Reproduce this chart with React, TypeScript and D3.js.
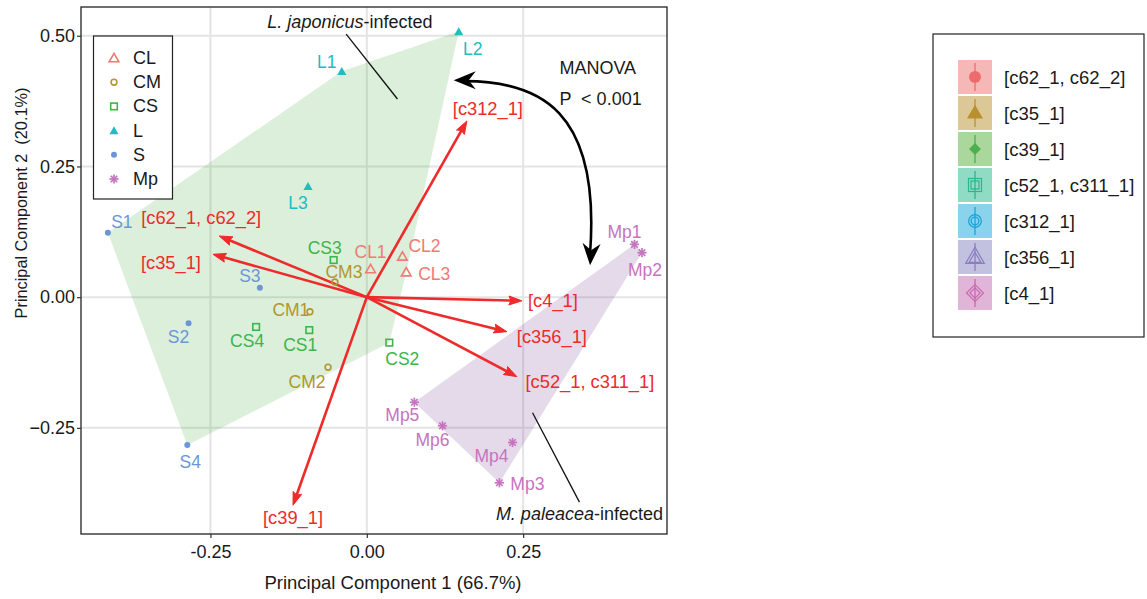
import * as d3 from "d3";
import { useRef, useEffect } from "react";

// ---- data ----
const groups = ["CL", "CM", "CS", "L", "S", "Mp"];
const groupColors = ["#F07A74", "#B3962F", "#3DB54A", "#22BCC0", "#6B96D6", "#C673C0"];

const sampleNames = [
  "L1", "L2", "L3", "S1", "S2", "S3", "S4",
  "CL1", "CL2", "CL3", "CM1", "CM2", "CM3",
  "CS1", "CS2", "CS3", "CS4",
  "Mp1", "Mp2", "Mp3", "Mp4", "Mp5", "Mp6",
];
const sampleGroup = [
  "L", "L", "L", "S", "S", "S", "S",
  "CL", "CL", "CL", "CM", "CM", "CM",
  "CS", "CS", "CS", "CS",
  "Mp", "Mp", "Mp", "Mp", "Mp", "Mp",
];
const pc1 = [
  -0.040, 0.147, -0.094, -0.414, -0.285, -0.171, -0.287,
  0.006, 0.057, 0.063, -0.091, -0.062, -0.051,
  -0.092, 0.036, -0.053, -0.177,
  0.428, 0.440, 0.212, 0.233, 0.076, 0.121,
];
const pc2 = [
  0.432, 0.508, 0.212, 0.123, -0.050, 0.018, -0.283,
  0.054, 0.078, 0.048, -0.028, -0.134, 0.029,
  -0.063, -0.087, 0.071, -0.057,
  0.101, 0.085, -0.355, -0.278, -0.201, -0.246,
];
// label nudges (px) for sample names
const labelDx = [-15, 14, -10, 14, -10, -10, 3, 0, 22, 28, -19, -21, 9, -9, 13, -9, -9, -10, 3, 28, -21, -12, -10];
const labelDy = [-9, 17, 17, -11, 14, -12, 17, -17, -10, 2, -2, 15, -10, 15, 16, -12, 14, -12, 17, 1, 13, 13, 14];

const loadingNames = ["[c312_1]", "[c62_1, c62_2]", "[c35_1]", "[c4_1]", "[c356_1]", "[c52_1, c311_1]", "[c39_1]"];
const loading1 = [0.160, -0.236, -0.246, 0.248, 0.224, 0.240, -0.118];
const loading2 = [0.337, 0.117, 0.082, -0.007, -0.066, -0.152, -0.398];
const loadDx = [21, -18, -42, 31, 45, 73, 0];
const loadDy = [-12, -18, 8, 0, 5, 5, 12];

const legendKeys = ["[c62_1, c62_2]", "[c35_1]", "[c39_1]", "[c52_1, c311_1]", "[c312_1]", "[c356_1]", "[c4_1]"];
const keyFills = ["#F5B8B7", "#DCC897", "#AAD89C", "#8FDBC4", "#89D4EC", "#C3C1E0", "#E0B5D8"];
const keyInks = ["#EE6B6B", "#B8902E", "#4CAF50", "#2BB58A", "#1BA3DA", "#8A7EC0", "#CC66B0"];
const keyShapes = ["circle", "triangle", "diamond", "square2", "circle2", "triangle2", "diamond2"];

const xTicks = [-0.25, 0, 0.25];
const yTicks = [-0.25, 0, 0.25, 0.5];

// curved MANOVA arrow (data units)
const curveX = [0.139, 0.277, 0.374, 0.357];
const curveY = [0.415, 0.415, 0.357, 0.061];

const FONT = "'Liberation Sans', Arial, Helvetica, sans-serif";

export default function App() {
  const ref = useRef(null);

  useEffect(() => {
    const svg = d3.select(ref.current);
    svg.selectAll("*").remove();

    const panel = { l: 81, t: 7, r: 667, b: 534 };
    const x = d3.scaleLinear().domain([-0.457, 0.48]).range([panel.l, panel.r]);
    const y = d3.scaleLinear().domain([-0.453, 0.555]).range([panel.b, panel.t]);

    // grid
    const grid = svg.append("g");
    grid.selectAll(".gx").data(xTicks).join("line")
      .attr("x1", (d) => x(d)).attr("x2", (d) => x(d))
      .attr("y1", panel.t).attr("y2", panel.b)
      .attr("stroke", "#e4e4e4").attr("stroke-width", 2);
    grid.selectAll(".gy").data(yTicks).join("line")
      .attr("y1", (d) => y(d)).attr("y2", (d) => y(d))
      .attr("x1", panel.l).attr("x2", panel.r)
      .attr("stroke", "#e4e4e4").attr("stroke-width", 2);

    // hulls
    const pts = pc1.map((v, i) => ({ x: x(v), y: y(pc2[i]), g: sampleGroup[i] }));
    const greenHull = d3.polygonHull(pts.filter((p) => p.g !== "Mp").map((p) => [p.x, p.y]));
    const purpleHull = d3.polygonHull(pts.filter((p) => p.g === "Mp").map((p) => [p.x, p.y]));
    svg.append("path").attr("d", "M" + greenHull.join("L") + "Z")
      .attr("fill", "#3aa83a").attr("fill-opacity", 0.18);
    svg.append("path").attr("d", "M" + purpleHull.join("L") + "Z")
      .attr("fill", "#784696").attr("fill-opacity", 0.2);

    // annotation leader lines
    svg.append("line")
      .attr("x1", x(-0.033)).attr("y1", y(0.503)).attr("x2", x(0.049)).attr("y2", y(0.379))
      .attr("stroke", "#111").attr("stroke-width", 1.3);
    svg.append("line")
      .attr("x1", x(0.265)).attr("y1", y(-0.221)).attr("x2", x(0.34)).attr("y2", y(-0.392))
      .attr("stroke", "#111").attr("stroke-width", 1.3);

    // loadings arrows
    const red = "#EE2A2A";
    const ox = x(0), oy = y(0);
    const arr = svg.append("g");
    loadingNames.forEach((name, i) => {
      const tx = x(loading1[i]), ty = y(loading2[i]);
      const ang = Math.atan2(ty - oy, tx - ox);
      const hl = 13, hw = 4.5;
      const bx = tx - hl * Math.cos(ang), by = ty - hl * Math.sin(ang);
      arr.append("line")
        .attr("x1", ox).attr("y1", oy)
        .attr("x2", tx - 4 * Math.cos(ang)).attr("y2", ty - 4 * Math.sin(ang))
        .attr("stroke", red).attr("stroke-width", 2.6);
      arr.append("path")
        .attr("d", `M${tx},${ty}L${bx - hw * Math.sin(ang)},${by + hw * Math.cos(ang)}L${bx + 2 * Math.cos(ang)},${by + 2 * Math.sin(ang)}L${bx + hw * Math.sin(ang)},${by - hw * Math.cos(ang)}Z`)
        .attr("fill", red).attr("stroke", red).attr("stroke-width", 1);
      arr.append("text")
        .attr("x", tx + loadDx[i]).attr("y", ty + loadDy[i])
        .attr("text-anchor", "middle").attr("dominant-baseline", "central")
        .attr("font-family", FONT).attr("font-size", 18.3).attr("fill", red)
        .text(name);
    });

    // points
    const colorOf = (g) => groupColors[groups.indexOf(g)];
    const drawMarker = (sel, g, cx, cy, col) => {
      if (g === "CL") {
        sel.append("path").attr("d", d3.symbol(d3.symbolTriangle, 40)())
          .attr("transform", `translate(${cx},${cy + 1})`)
          .attr("fill", "none").attr("stroke", col).attr("stroke-width", 1.6);
      } else if (g === "CM") {
        sel.append("circle").attr("cx", cx).attr("cy", cy).attr("r", 2.9)
          .attr("fill", "none").attr("stroke", col).attr("stroke-width", 1.6);
      } else if (g === "CS") {
        sel.append("rect").attr("x", cx - 3.3).attr("y", cy - 3.3).attr("width", 6.6).attr("height", 6.6)
          .attr("fill", "none").attr("stroke", col).attr("stroke-width", 1.6);
      } else if (g === "L") {
        sel.append("path").attr("d", d3.symbol(d3.symbolTriangle, 36)())
          .attr("transform", `translate(${cx},${cy + 1})`).attr("fill", col);
      } else if (g === "S") {
        sel.append("circle").attr("cx", cx).attr("cy", cy).attr("r", 3).attr("fill", col);
      } else {
        const r = 4.6;
        for (let k = 0; k < 4; k++) {
          const a = (k * Math.PI) / 4;
          sel.append("line")
            .attr("x1", cx - r * Math.cos(a)).attr("y1", cy - r * Math.sin(a))
            .attr("x2", cx + r * Math.cos(a)).attr("y2", cy + r * Math.sin(a))
            .attr("stroke", col).attr("stroke-width", 1.7);
        }
      }
    };
    const ptg = svg.append("g");
    pts.forEach((p, i) => {
      const col = colorOf(p.g);
      drawMarker(ptg, p.g, p.x, p.y, col);
      ptg.append("text")
        .attr("x", p.x + labelDx[i]).attr("y", p.y + labelDy[i])
        .attr("text-anchor", "middle").attr("dominant-baseline", "central")
        .attr("font-family", FONT).attr("font-size", 17.5).attr("fill", col)
        .text(sampleNames[i]);
    });

    // curved double arrow
    const cp = curveX.map((v, i) => [x(v), y(curveY[i])]);
    const cpath = d3.path();
    cpath.moveTo(cp[0][0] + 8, cp[0][1] + 1);
    cpath.bezierCurveTo(cp[1][0], cp[1][1], cp[2][0], cp[2][1], cp[3][0], cp[3][1] - 12);
    svg.append("path").attr("d", cpath.toString())
      .attr("fill", "none").attr("stroke", "#000").attr("stroke-width", 2.6);
    const head = (tx, ty, ang) => {
      const hl = 22, hw = 9;
      const bx = tx - hl * Math.cos(ang), by = ty - hl * Math.sin(ang);
      const nx = tx - 15 * Math.cos(ang), ny = ty - 15 * Math.sin(ang);
      svg.append("path")
        .attr("d", `M${tx},${ty}L${bx - hw * Math.sin(ang)},${by + hw * Math.cos(ang)}L${nx},${ny}L${bx + hw * Math.sin(ang)},${by - hw * Math.cos(ang)}Z`)
        .attr("fill", "#000");
    };
    head(cp[0][0], cp[0][1], Math.atan2(cp[0][1] - cp[1][1], cp[0][0] - cp[1][0]));
    head(cp[3][0], cp[3][1], Math.atan2(cp[3][1] - cp[2][1], cp[3][0] - cp[2][0]));

    // annotation texts
    const jap = svg.append("text")
      .attr("x", x(-0.027)).attr("y", y(0.526))
      .attr("text-anchor", "middle").attr("dominant-baseline", "central")
      .attr("font-family", FONT).attr("font-size", 18).attr("fill", "#1a1a1a");
    jap.append("tspan").attr("font-style", "italic").text("L. japonicus");
    jap.append("tspan").text("-infected");
    const pal = svg.append("text")
      .attr("x", x(0.34)).attr("y", y(-0.415))
      .attr("text-anchor", "middle").attr("dominant-baseline", "central")
      .attr("font-family", FONT).attr("font-size", 18).attr("fill", "#1a1a1a");
    pal.append("tspan").attr("font-style", "italic").text("M. paleacea");
    pal.append("tspan").text("-infected");
    svg.append("text")
      .attr("x", x(0.308)).attr("y", y(0.438)).attr("dominant-baseline", "central")
      .attr("font-family", FONT).attr("font-size", 18).attr("fill", "#1a1a1a")
      .text("MANOVA");
    svg.append("text")
      .attr("x", x(0.308)).attr("y", y(0.379)).attr("dominant-baseline", "central")
      .attr("font-family", FONT).attr("font-size", 18).attr("fill", "#1a1a1a")
      .attr("xml:space", "preserve")
      .text("P  < 0.001");

    // panel border
    svg.append("rect")
      .attr("x", panel.l).attr("y", panel.t)
      .attr("width", panel.r - panel.l).attr("height", panel.b - panel.t)
      .attr("fill", "none").attr("stroke", "#222").attr("stroke-width", 1.3);

    // axes
    const xAxis = d3.axisBottom(x).tickValues(xTicks).tickSize(4).tickSizeOuter(0)
      .tickFormat((d) => d.toFixed(2));
    const yAxis = d3.axisLeft(y).tickValues(yTicks).tickSize(4).tickSizeOuter(0)
      .tickFormat(d3.format(".2f"));
    const xg = svg.append("g").attr("transform", `translate(0,${panel.b})`).call(xAxis);
    const yg = svg.append("g").attr("transform", `translate(${panel.l},0)`).call(yAxis);
    [xg, yg].forEach((g) => {
      g.select(".domain").remove();
      g.selectAll("line").attr("stroke", "#333").attr("stroke-width", 1.2);
      g.selectAll("text").attr("font-family", FONT).attr("font-size", 18).attr("fill", "#1a1a1a");
    });
    xg.selectAll("text").attr("dy", "0.95em");
    yg.selectAll("text").attr("x", -6);

    svg.append("text")
      .attr("x", 393).attr("y", 582)
      .attr("text-anchor", "middle").attr("dominant-baseline", "central")
      .attr("font-family", FONT).attr("font-size", 18.5).attr("fill", "#1a1a1a")
      .text("Principal Component 1 (66.7%)");
    svg.append("text")
      .attr("transform", "translate(21,203) rotate(-90)")
      .attr("text-anchor", "middle").attr("dominant-baseline", "central")
      .attr("font-family", FONT).attr("font-size", 16.3).attr("fill", "#1a1a1a")
      .attr("xml:space", "preserve")
      .text("Principal Component 2  (20.1%)");

    // inner legend
    const lg = svg.append("g");
    lg.append("rect").attr("x", 93.5).attr("y", 36).attr("width", 79).attr("height", 163)
      .attr("fill", "#fff").attr("stroke", "#222").attr("stroke-width", 1.2);
    groups.forEach((g, i) => {
      const cy = 58 + 24.2 * i;
      drawMarker(lg, g, 114, cy, groupColors[i]);
      lg.append("text").attr("x", 133).attr("y", cy)
        .attr("dominant-baseline", "central")
        .attr("font-family", FONT).attr("font-size", 18).attr("fill", "#1a1a1a")
        .text(g);
    });

    // right legend
    const rg = svg.append("g");
    rg.append("rect").attr("x", 933).attr("y", 34).attr("width", 211).attr("height", 303)
      .attr("fill", "#fff").attr("stroke", "#222").attr("stroke-width", 1.2);
    legendKeys.forEach((name, i) => {
      const top = 60 + 36 * i;
      const cx = 975, cy = top + 17;
      const ink = keyInks[i];
      rg.append("rect").attr("x", 958).attr("y", top).attr("width", 34).attr("height", 34).attr("fill", keyFills[i]);
      rg.append("line").attr("x1", cx).attr("x2", cx).attr("y1", top + 3).attr("y2", top + 31)
        .attr("stroke", ink).attr("stroke-width", 1.3);
      const s = keyShapes[i];
      if (s === "circle") {
        rg.append("circle").attr("cx", cx).attr("cy", cy).attr("r", 6).attr("fill", ink);
      } else if (s === "triangle") {
        rg.append("path").attr("d", d3.symbol(d3.symbolTriangle, 110)()).attr("transform", `translate(${cx},${cy + 1})`).attr("fill", ink);
      } else if (s === "diamond") {
        rg.append("rect").attr("x", -4.2).attr("y", -4.2).attr("width", 8.4).attr("height", 8.4)
          .attr("transform", `translate(${cx},${cy}) rotate(45)`).attr("fill", ink);
      } else if (s === "square2") {
        rg.append("rect").attr("x", cx - 6.5).attr("y", cy - 6.5).attr("width", 13).attr("height", 13)
          .attr("fill", "none").attr("stroke", ink).attr("stroke-width", 1.2);
        rg.append("rect").attr("x", cx - 4).attr("y", cy - 4).attr("width", 8).attr("height", 8)
          .attr("fill", "none").attr("stroke", ink).attr("stroke-width", 1.2);
      } else if (s === "circle2") {
        rg.append("circle").attr("cx", cx).attr("cy", cy).attr("r", 6.3).attr("fill", "none").attr("stroke", ink).attr("stroke-width", 1.3);
        rg.append("circle").attr("cx", cx).attr("cy", cy).attr("r", 3.8).attr("fill", "none").attr("stroke", ink).attr("stroke-width", 1.3);
      } else if (s === "triangle2") {
        rg.append("path").attr("d", d3.symbol(d3.symbolTriangle, 150)()).attr("transform", `translate(${cx},${cy + 1})`)
          .attr("fill", "none").attr("stroke", ink).attr("stroke-width", 1.2);
        rg.append("path").attr("d", d3.symbol(d3.symbolTriangle, 60)()).attr("transform", `translate(${cx},${cy + 2})`)
          .attr("fill", "none").attr("stroke", ink).attr("stroke-width", 1.2);
      } else {
        rg.append("rect").attr("x", -6).attr("y", -6).attr("width", 12).attr("height", 12)
          .attr("transform", `translate(${cx},${cy}) rotate(45)`).attr("fill", "none").attr("stroke", ink).attr("stroke-width", 1.2);
        rg.append("rect").attr("x", -3.6).attr("y", -3.6).attr("width", 7.2).attr("height", 7.2)
          .attr("transform", `translate(${cx},${cy}) rotate(45)`).attr("fill", "none").attr("stroke", ink).attr("stroke-width", 1.2);
      }
      rg.append("text").attr("x", 1004).attr("y", cy)
        .attr("dominant-baseline", "central")
        .attr("font-family", FONT).attr("font-size", 18.5).attr("fill", "#1a1a1a")
        .text(name);
    });
  });

  return (
    <svg
      ref={ref}
      width={1147}
      height={599}
      style={{ position: "absolute", left: 0, top: 0, background: "#fff" }}
    />
  );
}
